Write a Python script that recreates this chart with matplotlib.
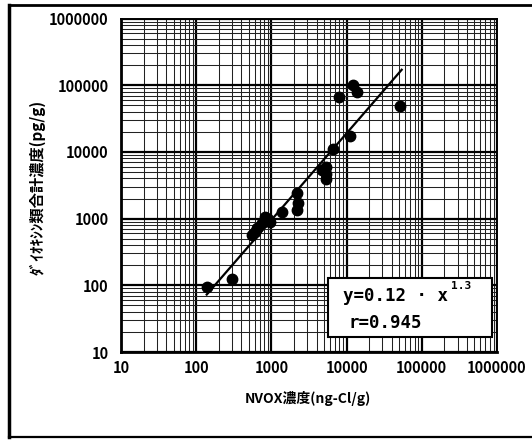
import matplotlib
matplotlib.use("Agg")
import matplotlib.pyplot as plt
import numpy as np
from matplotlib.patches import Rectangle
from matplotlib.lines import Line2D
from matplotlib.ticker import LogLocator, FixedLocator, FuncFormatter, NullFormatter

plt.rcParams['font.family'] = ['Noto Sans CJK JP', 'DejaVu Sans']

# NVOX concentration (ng-Cl/g) vs total dioxins (pg/g)
nvox = [138, 297, 550, 600, 640, 760, 820, 900, 960, 1370,
        2170, 2280, 2170, 4700, 5300, 5400, 5300, 6650,
        11100, 8000, 12300, 13600, 51300]
dioxin = [93, 123, 570, 640, 715, 850, 1070, 1000, 900, 1270,
          2400, 1700, 1350, 5300, 5900, 4600, 3900, 10900,
          17300, 66000, 100000, 80000, 48800]

# power-law regression y = a * x^b
coef_a = 0.12
coef_b = 1.3
r_value = 0.945
fit_range = [138, 54000]

x_ticks = [10, 100, 1000, 10000, 100000, 1000000]
y_ticks = [10, 100, 1000, 10000, 100000, 1000000]

x_label = "NVOX濃度(ng-Cl/g)"
y_label = "ﾀﾞｲｵｷｼﾝ類合計濃度(pg/g)"

W, H = 532, 440
fig = plt.figure(figsize=(W / 100, H / 100), dpi=100)
fig.patch.set_facecolor('white')

ax = fig.add_axes([121 / W, 1 - 352 / H, 376 / W, 333.5 / H])
ax.set_xscale('log')
ax.set_yscale('log')
ax.set_xlim(x_ticks[0], x_ticks[-1])
ax.set_ylim(y_ticks[0], y_ticks[-1])

ax.xaxis.set_major_locator(FixedLocator(x_ticks))
ax.yaxis.set_major_locator(FixedLocator(y_ticks))
ax.xaxis.set_minor_locator(LogLocator(base=10, subs=np.arange(2, 10), numticks=30))
ax.yaxis.set_minor_locator(LogLocator(base=10, subs=np.arange(2, 10), numticks=30))
fmt = FuncFormatter(lambda v, p: f"{int(round(v))}")
ax.xaxis.set_major_formatter(fmt)
ax.yaxis.set_major_formatter(fmt)
ax.xaxis.set_minor_formatter(NullFormatter())
ax.yaxis.set_minor_formatter(NullFormatter())

ax.tick_params(which='both', length=0)
ax.tick_params(axis='x', pad=6, labelsize=10.5)
ax.tick_params(axis='y', pad=9, labelsize=10.5)
for lab in ax.get_xticklabels() + ax.get_yticklabels():
    lab.set_fontweight('bold')

ax.grid(which='major', color='black', linewidth=1.6, zorder=1)
ax.grid(which='minor', color='#222222', linewidth=0.75, zorder=1)
ax.set_axisbelow(True)

for side in ['top', 'right']:
    ax.spines[side].set_linewidth(1.4)
for side in ['left', 'bottom']:
    ax.spines[side].set_linewidth(2.0)

# regression line
fx = np.logspace(np.log10(fit_range[0]), np.log10(fit_range[1]), 60)
ax.plot(fx, coef_a * fx ** coef_b, color='black', linewidth=1.6, zorder=3)

# samples
ax.plot(nvox, dioxin, 'o', color='black', markersize=7.5, zorder=4)

# equation box
ax.add_patch(Rectangle((0.551, 0.045), 0.436, 0.177, transform=ax.transAxes,
                       facecolor='white', edgecolor='black', linewidth=1.5,
                       zorder=5))
ax.text(0.591, 0.168, f"y={coef_a:.2f} · x", transform=ax.transAxes,
        family='DejaVu Sans Mono', fontsize=12.5, fontweight='bold',
        ha='left', va='center', zorder=6)
ax.text(0.878, 0.199, f"{coef_b:.1f}", transform=ax.transAxes,
        family='DejaVu Sans Mono', fontsize=8, fontweight='bold',
        ha='left', va='center', zorder=6)
ax.text(0.605, 0.086, f"r={r_value:.3f}", transform=ax.transAxes,
        family='DejaVu Sans Mono', fontsize=12.5, fontweight='bold',
        ha='left', va='center', zorder=6)

# axis titles
fig.text(308 / W, 1 - 398 / H, x_label, ha='center', va='center',
         fontsize=10, fontweight='bold')
fig.text(37 / W, 1 - 187 / H, y_label, ha='center', va='center',
         rotation=90, fontsize=11, fontweight='bold')

# outer frame
frame_kw = dict(color='black', transform=fig.transFigure)
fig.add_artist(Line2D([9 / W, 9 / W], [1 - 5 / H, 1 - 437 / H], linewidth=2.5, **frame_kw))
fig.add_artist(Line2D([9 / W, 1.0], [1 - 5 / H, 1 - 5 / H], linewidth=2.0, **frame_kw))
fig.add_artist(Line2D([9 / W, 1.0], [1 - 437 / H, 1 - 437 / H], linewidth=1.6, **frame_kw))

fig.savefig("out.png", dpi=100)
